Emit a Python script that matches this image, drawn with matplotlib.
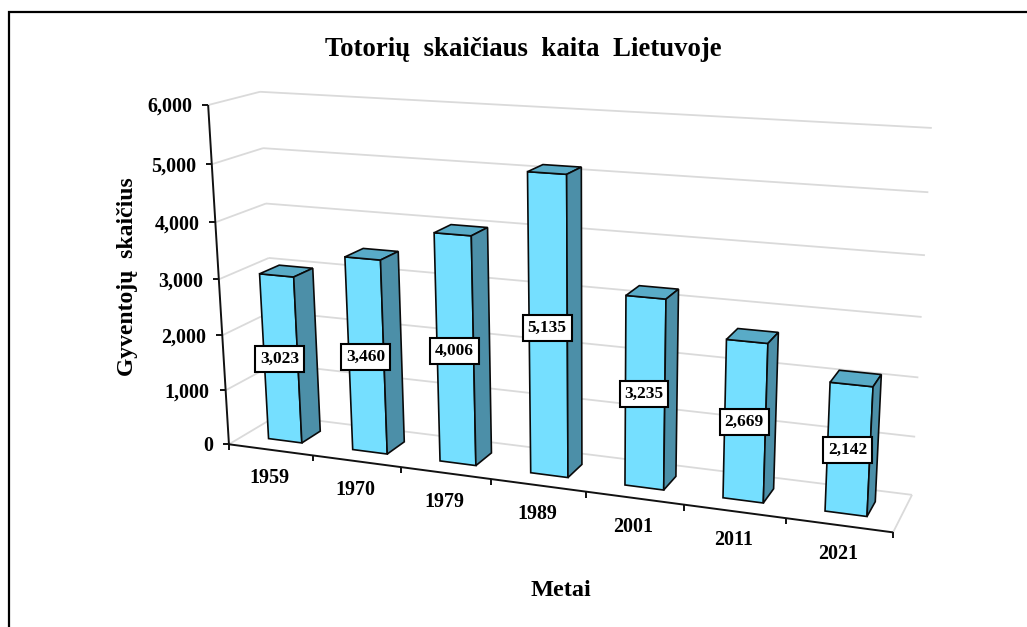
import numpy as np
import matplotlib
matplotlib.use('Agg')
import matplotlib.pyplot as plt
from matplotlib.patches import Polygon

plt.rcParams['font.family'] = ['Liberation Serif', 'DejaVu Serif']

# data
years = ['1959', '1970', '1979', '1989', '2001', '2011', '2021']
people = [3023, 3460, 4006, 5135, 3235, 2669, 2142]
y_ticks = [0, 1000, 2000, 3000, 4000, 5000, 6000]

title = 'Totorių  skaičiaus  kaita  Lietuvoje'
x_title = 'Metai'
y_title = 'Gyventojų  skaičius'

# colours
front_col = '#75DFFF'
top_col = '#59ABC7'
side_col = '#4C8FA8'
grid_col = '#DADADA'

# the chart is a 3D box: (category, value, depth) -> picture pixels
# camera is fitted to the corners of that box as seen in the picture
n_cat = len(years)
y_max = y_ticks[-1]
calib = [
    (0, 0, 0, 229, 445), (0, 6000, 0, 209, 105), (0, 3000, 0, 218, 279),
    (0, 0, 1, 278, 415), (0, 6000, 1, 260, 92), (0, 3000, 1, 268, 258),
    (7, 0, 0, 893, 532), (7, 0, 1, 912, 495), (7, 6000, 1, 932, 128),
    (7, 3000, 1, 922, 317), (7, 1000, 1, 915, 437), (7, 5000, 1, 928, 192),
]
rows = []
for cx, cy, cz, px, py in calib:
    w = [cx / n_cat, cy / y_max, cz, 1]
    rows.append(w + [0, 0, 0, 0] + [-px * v for v in w])
    rows.append([0, 0, 0, 0] + w + [-py * v for v in w])
cam = np.linalg.svd(np.array(rows, dtype=float))[2][-1].reshape(3, 4)


def project(cat, val, depth):
    p = cam @ np.array([cat / n_cat, val / y_max, depth, 1.0])
    return p[0] / p[2], p[1] / p[2]


fig = plt.figure(figsize=(10.27, 6.27), dpi=100)
ax = fig.add_axes([0, 0, 1, 1])
ax.set_xlim(0, 1027)
ax.set_ylim(627, 0)
ax.axis('off')


def line(a, b, col, lw, z=2):
    ax.plot([a[0], b[0]], [a[1], b[1]], color=col, lw=lw, zorder=z, solid_capstyle='butt')


# outer frame (no right or bottom edge in the picture)
ax.plot([8.5, 8.5, 1027], [627, 12, 12], color='black', lw=1.6, zorder=1, solid_joinstyle='miter')

# walls
for v in y_ticks:
    line(project(0, v, 0), project(0, v, 1), grid_col, 1.3)
    line(project(0, v, 1), project(n_cat, v, 1), grid_col, 1.3)
line(project(n_cat, 0, 0), project(n_cat, 0, 1), grid_col, 1.3)

# axes and ticks
line(project(0, 0, 0), project(0, y_max, 0), '#111111', 1.4, 3)
line(project(0, 0, 0), project(n_cat, 0, 0), '#111111', 1.4, 3)
for v in y_ticks:
    px, py = project(0, v, 0)
    line((px - 6, py), (px, py), '#111111', 1.4, 3)
    ax.text(px - 16, py + 2, f'{v:,}', ha='right', va='center', fontsize=14.4, fontweight='bold')
for i in range(n_cat + 1):
    px, py = project(i, 0, 0)
    line((px, py), (px, py + 6), '#111111', 1.4, 3)
for i, yr in enumerate(years):
    px, py = project(i + 0.5, 0, 0)
    ax.text(px - 1, py + 28.5, yr, ha='center', va='center', fontsize=14.4, fontweight='bold')

# bars
bar_w = 0.4
z0, z1 = 0.3, 0.7
for i, v in enumerate(people):
    x0 = i + 0.5 - bar_w / 2
    x1 = i + 0.5 + bar_w / 2
    faces = [
        ([(x0, 0, z0), (x1, 0, z0), (x1, v, z0), (x0, v, z0)], front_col),
        ([(x0, v, z0), (x1, v, z0), (x1, v, z1), (x0, v, z1)], top_col),
        ([(x1, 0, z0), (x1, 0, z1), (x1, v, z1), (x1, v, z0)], side_col),
    ]
    for corners, col in faces:
        ax.add_patch(Polygon([project(*c) for c in corners], closed=True, facecolor=col,
                             edgecolor='#0A0A0A', lw=1.2, joinstyle='miter', zorder=4))
    # value label sits on the middle of the front face
    px, py = project(i + 0.5, v / 2, z0)
    ax.text(px - 1, py, f'{v:,}', ha='center', va='center', fontsize=12.5, fontweight='bold', zorder=6,
            bbox=dict(boxstyle='square,pad=0.28', facecolor='white', edgecolor='black', lw=1.5))

# titles
ax.text(523, 49, title, ha='center', va='center', fontsize=19.3, fontweight='bold')
ax.text(561, 590, x_title, ha='center', va='center', fontsize=17.5, fontweight='bold')
ax.text(127, 277, y_title, ha='center', va='center', rotation=90, fontsize=17, fontweight='bold')

fig.savefig('out.png', dpi=100)
